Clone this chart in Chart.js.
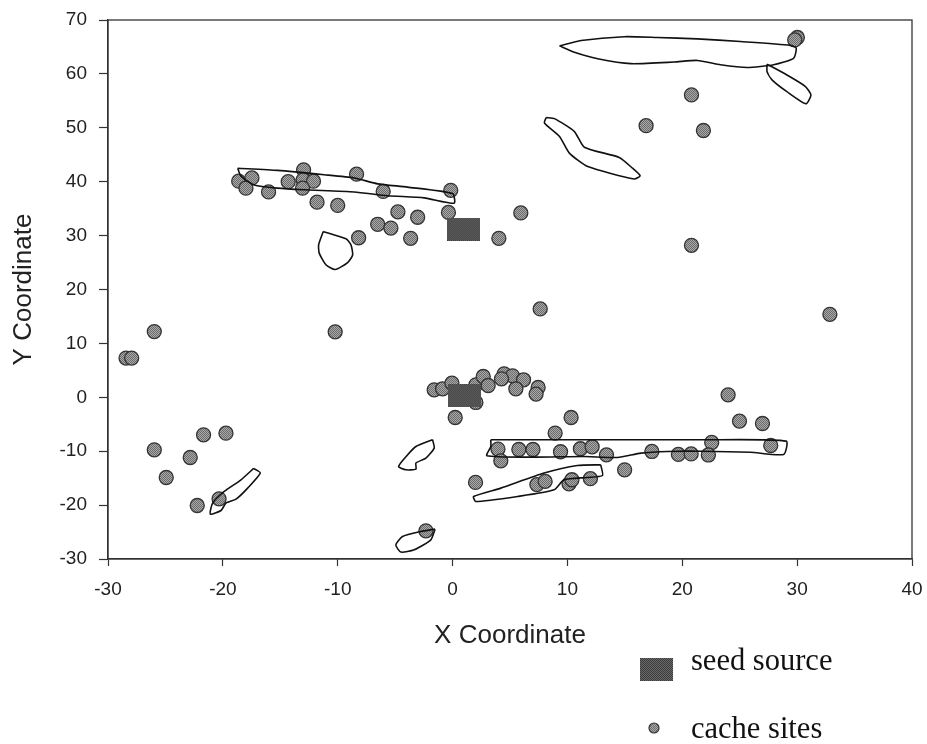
<!DOCTYPE html>
<html>
<head>
<meta charset="utf-8">
<script src="https://cdn.jsdelivr.net/npm/chart.js@4"></script>
<style>
html,body{margin:0;padding:0;background:#fff;}
#wrap{position:relative;width:927px;height:744px;overflow:hidden;}
#c{position:absolute;left:0;top:0;}
.lg{position:absolute;font-family:"Liberation Serif",serif;font-size:30.5px;line-height:34px;color:#111;white-space:nowrap;}
.sw{position:absolute;}
</style>
</head>
<body>
<div id="wrap">
<canvas id="c" width="927" height="744"></canvas>
<canvas class="sw" id="swSeed" width="33" height="23" style="left:640px;top:658px"></canvas>
<canvas class="sw" id="swCache" width="16" height="16" style="left:646px;top:720px"></canvas>
<div class="lg" style="left:691px;top:643px">seed source</div>
<div class="lg" style="left:691px;top:711px">cache sites</div>
</div>
<script>
const xTicks = [-30,-20,-10,0,10,20,30,40];
const yTicks = [-30,-20,-10,0,10,20,30,40,50,60,70];
const xAxisTitle = "X Coordinate";
const yAxisTitle = "Y Coordinate";

const cacheX = [-18.62,-17.47,-17.99,-16.02,-14.31,-12.97,-13.01,-12.11,-13.06,-11.8,-10.0,-8.36,-6.04,-0.16,-0.36,-4.76,-3.04,-6.52,-5.37,-3.65,-8.18,4.03,5.94,7.63,-25.97,-10.22,-28.43,-27.94,
 -1.6,-0.87,-0.06,2.03,2.67,3.1,4.49,5.22,4.26,6.18,5.51,7.45,7.27,2.03,0.23,10.32,8.93,23.99,24.98,26.98,22.56,27.7,3.95,5.77,7.0,9.4,11.13,12.15,13.4,17.35,19.66,20.77,22.27,4.2,14.98,2.0,7.34,8.06,10.14,10.39,12.0,-2.32,
 30.02,29.79,20.8,16.85,21.84,20.8,32.85,-21.68,-19.73,-25.97,-22.84,-24.93,-22.23,-20.33];
const cacheY = [40.1,40.7,38.8,38.1,40.0,42.2,40.35,40.1,38.8,36.2,35.6,41.4,38.2,38.4,34.3,34.4,33.4,32.1,31.4,29.5,29.6,29.5,34.2,16.4,12.2,12.15,7.27,7.27,
 1.39,1.58,2.63,2.32,3.86,2.19,4.36,3.99,3.43,3.25,1.58,1.82,0.59,-0.96,-3.75,-3.75,-6.64,0.46,-4.42,-4.86,-8.38,-8.94,-9.61,-9.68,-9.68,-10.1,-9.55,-9.18,-10.67,-10.05,-10.6,-10.5,-10.7,-11.78,-13.45,-15.8,-16.2,-15.6,-16.05,-15.3,-15.1,-24.77,
 66.75,66.3,56.1,50.4,49.5,28.2,15.4,-6.96,-6.65,-9.74,-11.17,-14.88,-20.07,-18.83];
const seedX = [0.96,1.03];
const seedY = [31.2,0.28];

const stripNorth = [[-18.71,42.5],[-15.23,42.1],[-11.18,41.3],[-8.56,40.7],[-6.52,39.6],[-3.91,39.0],[0,37.8],[0.14,36.0],[-2.47,37.0],[-5.66,37.4],[-8.56,38.1],[-12.92,38.5],[-15.23,38.8],[-17.27,39.4],[-18.42,41.0],[-18.71,42.5]];
const teardrop = [[-11.26,30.76],[-9.28,29.4],[-8.85,28.3],[-8.7,26.4],[-9.14,25.0],[-10.22,23.7],[-11.03,24.6],[-11.61,26.75],[-11.66,28.3],[-11.26,30.76]];
const topLong = [[9.31,65.2],[11.19,66.2],[14.94,66.9],[17.84,66.75],[21.31,66.5],[25.06,66.0],[29.4,65.3],[29.92,64.8],[29.69,62.9],[27.95,61.7],[25.65,61.2],[23.33,61.7],[21.31,62.5],[19.28,62.2],[15.52,61.9],[12.64,62.8],[10.61,64.0],[9.31,65.2]];
const topSpur = [[27.38,61.8],[29.11,59.8],[30.7,57.7],[31.2,56.1],[30.76,54.45],[29.11,56.7],[27.81,58.9],[27.38,60.4],[27.38,61.8]];
const wavy = [[8.15,51.9],[8.87,51.7],[10.61,49.3],[11.47,46.4],[14.51,44.5],[15.67,42.5],[16.33,41.1],[15.81,40.5],[11.77,42.8],[10.17,45.3],[9.31,48.4],[8.0,50.9],[8.15,51.9]];
const stripEast = [[3.33,-7.88],[12.9,-7.88],[21.6,-7.88],[29.05,-8.13],[28.82,-10.6],[25.93,-10.2],[21.6,-10.0],[18.7,-10.05],[16.4,-10.36],[14.35,-11.17],[11.44,-10.98],[7.1,-11.1],[2.99,-10.85],[3.33,-9.12],[3.33,-7.88]];
const lens = [[12.9,-12.52],[13.05,-14.5],[11.74,-14.87],[9.71,-15.3],[8.84,-17.16],[5.66,-18.4],[2.03,-19.33],[1.83,-18.4],[4.2,-16.85],[7.97,-14.06],[10.87,-12.65],[12.9,-12.52]];
const blobMid = [[-1.74,-7.88],[-1.6,-9.43],[-2.32,-11.28],[-3.19,-12.2],[-3.19,-13.32],[-4.06,-13.45],[-4.7,-12.84],[-3.91,-10.67],[-3.19,-9.13],[-1.74,-7.88]];
const blobSouth = [[-1.52,-24.45],[-1.89,-26.44],[-3.34,-28.3],[-4.5,-28.72],[-4.94,-27.37],[-4.36,-25.83],[-2.76,-24.9],[-1.52,-24.45]];
const stripWest = [[-17.32,-13.2],[-16.74,-14.06],[-17.84,-16.85],[-18.85,-18.89],[-19.73,-19.63],[-20.16,-21.0],[-21.09,-21.67],[-20.89,-19.63],[-19.88,-17.47],[-18.42,-15.3],[-17.32,-13.2]];
const outlines = [stripNorth,teardrop,topLong,topSpur,wavy,stripEast,lens,blobMid,blobSouth,stripWest];

function dither(ctx,w,h,a,b){
  for(let y=0;y<h;y++)for(let x=0;x<w;x++){
    ctx.fillStyle=((x+y)%2===0)?a:b;
    ctx.fillRect(x,y,1,1);
  }
}
function seedImage(w,h){
  const k=document.createElement('canvas');k.width=w;k.height=h;
  dither(k.getContext('2d'),w,h,'#3c3c3c','#696969');
  return k;
}
function sitePattern(ctx){
  const k=document.createElement('canvas');k.width=2;k.height=2;
  dither(k.getContext('2d'),2,2,'#6c6c6c','#a8a8a8');
  return ctx.createPattern(k,'repeat');
}
const cv=document.getElementById('c');
const ctx=cv.getContext('2d');
const pat=sitePattern(ctx);

dither(document.getElementById('swSeed').getContext('2d'),33,23,'#3c3c3c','#696969');
(function(){
  const s=document.getElementById('swCache').getContext('2d');
  s.beginPath();s.arc(8,8,5,0,Math.PI*2);
  s.fillStyle=sitePattern(s);s.fill();
  s.lineWidth=1.2;s.strokeStyle='#333';s.stroke();
})();

const datasets=[];
outlines.forEach((o,i)=>datasets.push({
  label:'outline '+(i+1),
  data:o.map(p=>({x:p[0],y:p[1]})),
  showLine:true,tension:0.2,borderColor:'#111',borderWidth:1.6,
  pointRadius:0,fill:false,order:1
}));
datasets.push({
  label:'seed source',
  data:seedX.map((x,i)=>({x,y:seedY[i]})),
  pointStyle:seedImage(33,23),pointRadius:12,order:2
});
datasets.push({
  label:'cache sites',
  data:cacheX.map((x,i)=>({x,y:cacheY[i]})),
  pointStyle:'circle',pointRadius:7,borderWidth:1.3,
  backgroundColor:pat,borderColor:'#333',order:3
});

const frame={id:'frame',afterDatasetsDraw(ch){
  const a=ch.chartArea,g=ch.ctx;
  g.save();g.strokeStyle='#333';g.lineWidth=1.3;
  g.strokeRect(a.left,a.top,a.right-a.left,a.bottom-a.top);
  g.restore();
}};

new Chart(cv,{
  type:'scatter',
  data:{datasets},
  plugins:[frame],
  options:{
    responsive:false,animation:false,
    layout:{autoPadding:false,padding:{left:8,right:15,top:20,bottom:93}},
    plugins:{legend:{display:false},tooltip:{enabled:false}},
    scales:{
      x:{type:'linear',min:-30,max:40,
        afterBuildTicks(s){s.ticks=xTicks.map(v=>({value:v}));},
        afterFit(s){s.height=92;s.paddingLeft=0;s.paddingRight=0;},
        grid:{drawOnChartArea:false,drawTicks:true,tickLength:7,color:'#333',tickWidth:1.2},
        border:{display:true,color:'#333',width:1.3},
        ticks:{font:{family:'"Liberation Sans"',size:19},color:'#222',padding:12,maxRotation:0,autoSkip:false},
        title:{display:true,text:xAxisTitle,font:{family:'"Liberation Sans"',size:26},color:'#222',padding:0}
      },
      y:{type:'linear',min:-30,max:70,
        afterBuildTicks(s){s.ticks=yTicks.map(v=>({value:v}));},
        afterFit(s){s.width=100;s.paddingTop=0;s.paddingBottom=0;},
        grid:{drawOnChartArea:false,drawTicks:true,tickLength:9,color:'#333',tickWidth:1.2},
        border:{display:true,color:'#333',width:1.3},
        ticks:{font:{family:'"Liberation Sans"',size:19},color:'#222',padding:12,autoSkip:false},
        title:{display:true,text:yAxisTitle,font:{family:'"Liberation Sans"',size:26},color:'#222',padding:0}
      }
    }
  }
});
</script>
</body>
</html>
